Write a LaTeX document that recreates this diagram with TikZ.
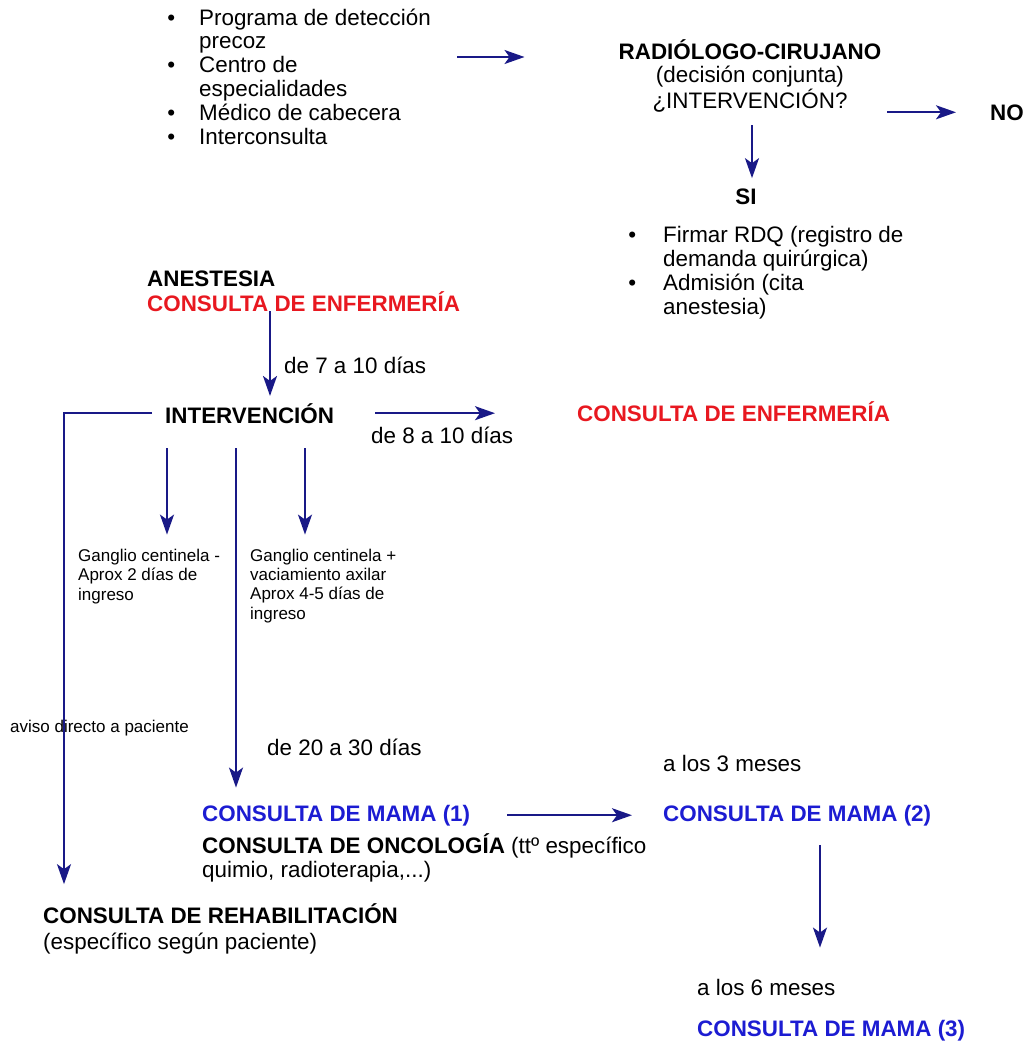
\documentclass[tikz,border=0pt]{standalone}
\usepackage{fontspec}
\setmainfont{Liberation Sans}
\usepackage{xcolor}
\usetikzlibrary{positioning,arrows.meta}
\definecolor{azulflecha}{RGB}{25,25,135}
\definecolor{rojo}{RGB}{232,24,32}
\definecolor{azul}{RGB}{28,28,210}
\newcommand{\bul}[1][24pt]{\llap{\textbullet\hspace{#1}}}
\tikzset{
texto/.style={inner sep=0pt, anchor=base west, align=left, font=\fontsize{22.4}{23.8}\selectfont},
chico/.style={texto, font=\fontsize{17}{19.3}\selectfont},
titulo/.style={texto, font=\fontsize{22.4}{23.8}\selectfont\bfseries},
flecha/.style={draw=azulflecha, line width=2pt, -{Stealth[length=20pt,width=14pt,inset=5pt]}}
}

\begin{document}
\begin{tikzpicture}[x=1pt,y=-1pt]
\useasboundingbox (0,0) rectangle (1027,1042);
% derivacion y decision (base = ultima linea)
\node[texto] (origen) at (199,144) {\bul Programa de detección\\precoz\\\bul Centro de\\especialidades\\\bul Médico de cabecera\\\bul Interconsulta};
\node[texto,anchor=base,align=center] (decision) at (750,108) {\textbf{RADIÓLOGO-CIRUJANO}\\(decisión conjunta)\\¿INTERVENCIÓN?};
\node[titulo] (no) at (990,120) {NO};
\node[titulo,anchor=base] (si) at (746,204) {SI};
\node[texto] (tramites) at (663,314) {\bul[27pt]Firmar RDQ (registro de\\demanda quirúrgica)\\\bul[27pt]Admisión (cita\\anestesia)};
% preoperatorio e intervencion
\node[titulo] (anestesia) at (147,311) {ANESTESIA\\[1pt]\textcolor{rojo}{CONSULTA DE ENFERMERÍA}};
\node[texto] (t7) at (284,373) {de 7 a 10 días};
\node[titulo] (interv) at (165,423) {INTERVENCIÓN};
\node[texto] (t8) at (371,443) {de 8 a 10 días};
\node[titulo,text=rojo] (enfermeria) at (577,421) {CONSULTA DE ENFERMERÍA};
\node[chico] (gsin) at (78,600) {Ganglio centinela -\\Aprox 2 días de\\ingreso};
\node[chico] (gcon) at (250,619) {Ganglio centinela +\\vaciamiento axilar\\Aprox 4-5 días de\\ingreso};
% seguimiento
\node[chico] (aviso) at (10,732) {aviso directo a paciente};
\node[texto] (t20) at (267,755) {de 20 a 30 días};
\node[texto] (t3) at (663,771) {a los 3 meses};
\node[titulo,text=azul] (mama1) at (202,821) {CONSULTA DE MAMA (1)};
\node[titulo,text=azul] (mama2) at (663,821) {CONSULTA DE MAMA (2)};
\node[texto] (oncologia) at (202,877) {\textbf{CONSULTA DE ONCOLOGÍA} (ttº específico\\quimio, radioterapia,...)};
\node[texto] (rehab) at (43,949) {\textbf{CONSULTA DE REHABILITACIÓN}\\[2pt](específico según paciente)};
\node[texto] (t6) at (697,995) {a los 6 meses};
\node[titulo,text=azul] (mama3) at (697,1036) {CONSULTA DE MAMA (3)};
% flechas
\coordinate (o1) at (457,57);
\draw[flecha, shorten >=94pt] (o1) -- (o1 -| decision.west);
\draw[flecha, shorten <=6pt, shorten >=34pt] (decision.east |- no.west) -- (no.west);
\draw[flecha, shorten <=13pt, shorten >=10pt] (decision.south -| 752,0) -- (si.north -| 752,0);
\draw[flecha, shorten >=7pt] (anestesia.south -| 270,0) -- (interv.north -| 270,0);
\draw[flecha, shorten <=13pt, shorten >=19pt] (interv.west) -- (interv.west -| 64,0) -- (rehab.north -| 64,0);
\draw[flecha, shorten <=41pt, shorten >=82pt] (interv.east) -- (interv.east -| enfermeria.west);
\foreach \x in {167,305}
  \draw[flecha, shorten <=25pt, shorten >=14pt] (interv.south -| \x,0) -- (gcon.north -| \x,0);
\draw[flecha, shorten <=25pt, shorten >=17pt] (interv.south -| 236,0) -- (mama1.north -| 236,0);
\draw[flecha, shorten <=37pt, shorten >=31pt] (mama1.east) -- (mama1.east -| mama2.west);
\draw[flecha, shorten <=19pt, shorten >=31pt] (mama2.south -| 820,0) -- (t6.north -| 820,0);
\end{tikzpicture}
\end{document}
